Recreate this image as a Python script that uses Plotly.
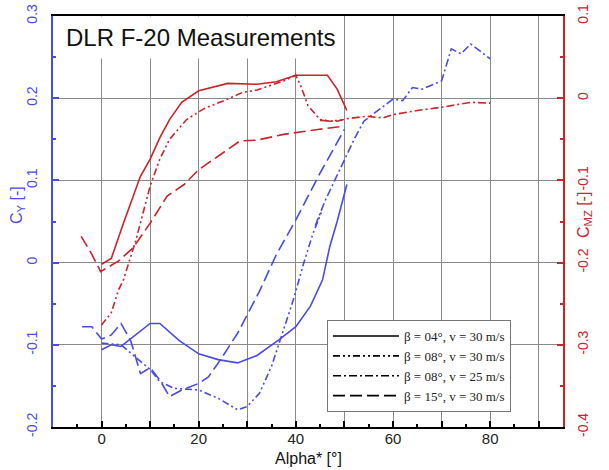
import plotly.graph_objects as go

# ---------------- data ----------------
# beta = 04 deg, v = 30 m/s (solid)
a_04_cy = [0, 2, 4, 7.5, 10, 12, 16, 20, 24, 28, 32, 36.5, 40, 43, 45.5, 47, 48.5, 50.5]
cy_04 = [-0.106, -0.100, -0.102, -0.086, -0.074, -0.074, -0.095, -0.111, -0.118, -0.122,
         -0.113, -0.094, -0.078, -0.053, -0.021, 0.020, 0.050, 0.095]
a_04_cmz = [0, 2, 4.5, 8, 10, 12, 14, 16.5, 20, 26, 32, 36, 40, 46.5, 48.5, 50.5]
cmz_04 = [-0.202, -0.195, -0.152, -0.095, -0.074, -0.048, -0.026, -0.005, 0.009, 0.018,
          0.017, 0.020, 0.028, 0.028, 0.011, -0.015]

# beta = 08 deg, v = 30 m/s (dash-dot-dot)
a_08a_cy = [0, 4, 7, 10, 12, 15, 20, 24, 28, 30, 32.5, 35, 37, 39.5, 41.5, 43.5, 45.5]
cy_08a = [-0.098, -0.100, -0.115, -0.130, -0.145, -0.153, -0.155, -0.165, -0.179, -0.175,
          -0.159, -0.126, -0.090, -0.045, -0.003, 0.035, 0.065]
a_08a_cmz = [0, 2, 3.5, 4.5, 7, 10, 12, 14, 17.5, 21, 26, 29, 32, 37.5, 40, 41, 42.5, 45, 47, 50]
cmz_08a = [-0.276, -0.261, -0.233, -0.221, -0.174, -0.107, -0.074, -0.050, -0.026, -0.013,
           -0.001, 0.007, 0.010, 0.021, 0.028, 0.015, -0.009, -0.026, -0.028, -0.026]

# beta = 08 deg, v = 25 m/s (dash-dot)
a_08b_cy = [44, 46, 48, 50, 52, 54, 56.5, 60, 62, 64, 66, 70, 72, 74, 76, 80]
cy_08b = [0.045, 0.075, 0.100, 0.126, 0.150, 0.172, 0.183, 0.199, 0.197, 0.213, 0.211,
          0.221, 0.260, 0.254, 0.266, 0.248]
a_08b_cmz = [45, 48.5, 50.5, 54.5, 58, 60, 65, 70, 76, 80]
cmz_08b = [-0.027, -0.028, -0.025, -0.022, -0.024, -0.020, -0.015, -0.011, -0.005, -0.006]

# beta = 15 deg, v = 30 m/s (dashed)
a_15_cy = [-4, -2, 0, 2, 4, 6, 8, 10, 12, 14, 16.5, 20, 22, 24.5, 28, 32.5, 36, 40, 45, 50]
cy_15 = [-0.078, -0.078, -0.093, -0.088, -0.074, -0.095, -0.135, -0.128, -0.143, -0.163,
         -0.155, -0.147, -0.139, -0.118, -0.086, -0.035, 0.010, 0.052, 0.109, 0.162]
a_15_cmz = [-4.2, -2, -0.2, 1, 3.5, 6.5, 10, 13.5, 17, 20, 24, 28.5, 32, 37.5, 44.5, 50]
cmz_15 = [-0.168, -0.190, -0.211, -0.207, -0.198, -0.182, -0.152, -0.119, -0.105, -0.087,
          -0.070, -0.052, -0.051, -0.044, -0.038, -0.034]

series_names = ["β = 04°, v = 30 m/s", "β = 08°, v = 30 m/s",
                "β = 08°, v = 25 m/s", "β = 15°, v = 30 m/s"]

x_tickvals = [-10, 0, 10, 20, 30, 40, 50, 60, 70, 80, 90]
x_ticktext = ["", "0", "", "20", "", "40", "", "60", "", "80", ""]
cy_tickvals = [-0.2, -0.1, 0, 0.1, 0.2, 0.3]
cy_ticktext = ["-0.2", "-0.1", "0", "0.1", "0.2", "0.3"]
cmz_tickvals = [-0.4, -0.3, -0.2, -0.1, 0, 0.1]
cmz_ticktext = ["-0.4", "-0.3", "-0.2", "-0.1", "0", "0.1"]

# ---------------- styling ----------------
BLUE = "#4a4ae6"
RED = "#cc2229"
dashes = ["solid", "7px,3px,2px,3px,2px,3px", "8px,3px,2px,3px", "12px,5px"]
LW = 1.6

fig = go.Figure()

cy_sets = [(a_04_cy, cy_04), (a_08a_cy, cy_08a), (a_08b_cy, cy_08b), (a_15_cy, cy_15)]
cmz_sets = [(a_04_cmz, cmz_04), (a_08a_cmz, cmz_08a), (a_08b_cmz, cmz_08b), (a_15_cmz, cmz_15)]

# legend entries (black samples)
for name, d in zip(series_names, dashes):
    fig.add_trace(go.Scatter(x=[None], y=[None], mode="lines", name=name,
                             line=dict(color="black", width=LW, dash=d)))

for (xa, ya), d in zip(cmz_sets, dashes):
    fig.add_trace(go.Scatter(x=xa, y=ya, yaxis="y2", mode="lines", showlegend=False,
                             line=dict(color=RED, width=LW, dash=d)))
for (xa, ya), d in zip(cy_sets, dashes):
    fig.add_trace(go.Scatter(x=xa, y=ya, mode="lines", showlegend=False,
                             line=dict(color=BLUE, width=LW, dash=d)))

L, R, T, B = 53, 46, 16, 43
W, H = 609, 470
pw, ph = W - L - R, H - T - B

def px(xp):
    return (xp - L) / pw

def py(yp):
    return (H - B - yp) / ph

grid = "#8a8a8a"
fig.update_layout(
    width=W, height=H,
    margin=dict(l=L, r=R, t=T, b=B, autoexpand=False),
    paper_bgcolor="white", plot_bgcolor="white",
    font=dict(family="Liberation Sans, Arial, sans-serif", size=14, color="black"),
    xaxis=dict(range=[-10, 95], tickvals=x_tickvals, ticktext=x_ticktext,
               ticks="inside", ticklen=6, tickwidth=1.5, tickcolor="black",
               minor=dict(dtick=5, tick0=0, ticks="inside", ticklen=3, tickcolor="black", showgrid=False),
               showgrid=True, gridcolor=grid, gridwidth=1,
               showline=True, linecolor="black", linewidth=1.5, mirror=True,
               zeroline=False, tickfont=dict(size=15, color="#222"),
               ticklabelstandoff=-3, automargin=False),
    yaxis=dict(range=[-0.2, 0.3], tickvals=cy_tickvals, ticktext=cy_ticktext,
               tickangle=-90, ticks="inside", ticklen=6, tickwidth=1.5, tickcolor=BLUE,
               minor=dict(dtick=0.05, tick0=0, ticks="inside", ticklen=3, tickcolor=BLUE, showgrid=False),
               showgrid=True, gridcolor=grid, gridwidth=1,
               showline=True, linecolor=BLUE, linewidth=1.8, zeroline=False,
               tickfont=dict(size=14, color=BLUE), ticklabelstandoff=9, automargin=False),
    yaxis2=dict(range=[-0.4, 0.1], tickvals=cmz_tickvals, ticktext=cmz_ticktext,
                overlaying="y", side="right", tickangle=-90, anchor="x",
                ticks="inside", ticklen=6, tickwidth=1.5, tickcolor=RED,
                minor=dict(dtick=0.05, tick0=0, ticks="inside", ticklen=3, tickcolor=RED, showgrid=False),
                showgrid=False, showline=True, linecolor=RED, linewidth=1.8, zeroline=False,
                tickfont=dict(size=14, color=RED), ticklabelstandoff=6, automargin=False),
    legend=dict(x=px(327), y=py(320), xanchor="left", yanchor="top",
                bgcolor="white", bordercolor="#777", borderwidth=1,
                font=dict(family="Liberation Serif, Times New Roman, serif", size=13, color="#222"),
                itemwidth=66, tracegroupgap=0),
    showlegend=True,
)

fig.add_annotation(text="DLR F-20 Measurements", xref="paper", yref="paper",
                   x=px(58), y=py(37), xanchor="left", yanchor="middle", showarrow=False,
                   bgcolor="white", borderpad=7,
                   font=dict(size=24, color="#111", family="Liberation Sans, Arial, sans-serif"))
fig.add_annotation(text="C<sub>Y</sub> [-]", xref="paper", yref="paper",
                   x=px(17), y=py(205), xanchor="center", yanchor="middle",
                   textangle=-90, showarrow=False,
                   font=dict(size=16, color=BLUE))
fig.add_annotation(text="C<sub>MZ</sub> [-]", xref="paper", yref="paper",
                   x=px(585), y=py(215), xanchor="center", yanchor="middle",
                   textangle=-90, showarrow=False,
                   font=dict(size=16, color=RED))
fig.add_annotation(text="Alpha* [°]", xref="paper", yref="paper",
                   x=0.5, y=py(458), xanchor="center", yanchor="middle", showarrow=False,
                   font=dict(size=16, color="#111"))

fig.write_html("out.html")
